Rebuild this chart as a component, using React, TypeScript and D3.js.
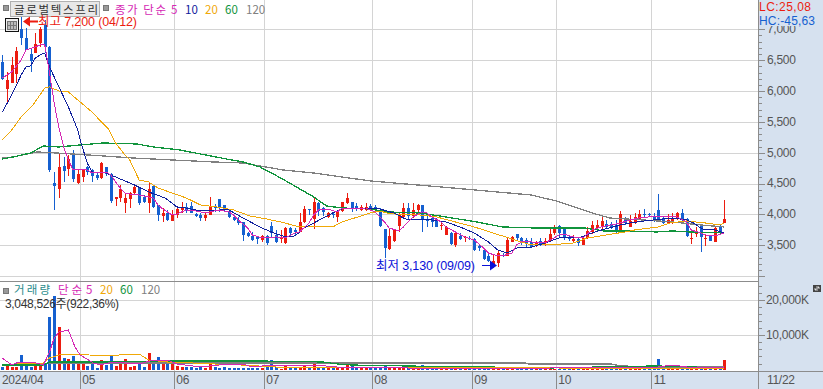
import React from "react";
import * as d3 from "d3";

const W = 823, H = 389;

const opens = [6470,6035,6130,6275,7005,6860,6600,6615,6780,7070,6715,4510,4415,4785,4735,4965,4510,4610,4770,4720,4640,4590,4770,4655,4250,4265,4185,4250,4350,4445,4285,4185,4460,4155,3975,4025,3895,3990,4075,4120,4140,4010,3990,3945,3990,4140,4250,4155,4055,3960,3910,3880,3700,3650,3635,3585,3650,3815,3670,3605,3540,3780,3750,3715,3880,4090,3925,4185,4105,3960,4010,3960,4055,4185,4205,4140,4075,4075,4140,4120,4075,3765,3440,3570,3815,3960,4105,3975,4075,4155,3925,3945,3895,3815,3670,3700,3505,3650,3620,3620,3605,3490,3425,3330,3200,3215,3345,3330,3555,3685,3620,3585,3555,3490,3570,3540,3570,3700,3815,3780,3620,3570,3605,3505,3620,3715,3780,3815,3845,3845,3830,3700,3945,3800,3860,3925,4010,4010,3975,4075,3945,3860,3860,3945,4025,3925,3605,3685,3815,3605,3670,3555,3815,3860];
const highs = [6585,6310,6550,6715,7200,7020,6680,6940,7040,7150,6730,4690,4980,4930,4965,5045,4720,4720,4785,4735,4670,4850,4770,4670,4285,4480,4350,4365,4495,4445,4315,4525,4480,4155,4105,4075,4075,4140,4205,4185,4205,4025,4025,4025,4285,4170,4250,4155,4075,3975,3960,3880,3715,3715,3635,3670,3670,3880,3750,3750,3800,3800,3780,4025,4140,4090,4265,4205,4120,4040,4025,4055,4205,4350,4205,4185,4155,4185,4170,4155,4105,3765,3765,3750,4040,4185,4185,4185,4170,4155,4025,3990,3945,3860,3815,3715,3700,3700,3650,3650,3620,3505,3425,3375,3345,3425,3375,3635,3650,3685,3635,3620,3620,3570,3620,3620,3800,3830,3830,3800,3670,3670,3620,3635,3800,3895,3910,3960,3910,3880,3910,4055,3960,3990,4025,4075,4090,4025,4025,4330,3975,4010,4025,4040,4090,3945,3765,3800,3830,3670,3670,3800,3830,4235];
const lows = [6180,5805,6130,6130,6745,6665,6310,6615,6715,6615,4690,4075,4265,4525,4625,4525,4495,4525,4640,4525,4560,4575,4625,4185,4140,4205,4025,4105,4315,4155,4185,4025,4105,3895,3880,3895,3895,3945,4025,4025,4025,3960,3895,3895,3990,4040,4040,4040,3945,3895,3830,3570,3635,3570,3520,3555,3505,3635,3540,3540,3520,3670,3670,3715,3860,3990,3765,3975,3975,3945,3945,3880,4040,4170,4040,4055,4055,4055,4055,4055,3800,3295,3425,3555,3715,3945,3925,3945,4040,3715,3800,3800,3800,3750,3670,3505,3475,3585,3555,3585,3410,3410,3265,3230,3130,3150,3310,3330,3555,3585,3505,3475,3455,3475,3490,3490,3555,3670,3635,3585,3570,3555,3490,3505,3605,3685,3750,3765,3765,3765,3700,3700,3830,3800,3845,3910,3960,3975,3880,3880,3845,3860,3845,3910,3860,3635,3520,3635,3395,3490,3570,3555,3700,3860];
const closes = [6195,6180,6420,6650,6860,6665,6490,6760,7005,6715,4720,4460,4770,4705,4900,4575,4655,4720,4690,4625,4590,4835,4655,4220,4285,4415,4265,4350,4445,4185,4205,4415,4120,3990,4025,3910,3990,4090,4120,4075,4025,3975,3945,3990,4140,4105,4105,4075,3960,3910,3865,3670,3650,3585,3605,3650,3540,3700,3555,3620,3780,3700,3715,3880,4090,4075,4205,4055,4040,4025,3990,4040,4205,4265,4090,4090,4120,4120,4090,4090,3815,3460,3650,3750,4010,4105,3975,4075,4155,3925,3895,3880,3800,3830,3800,3520,3700,3605,3635,3605,3425,3455,3280,3245,3245,3375,3330,3585,3635,3620,3540,3520,3475,3540,3520,3570,3685,3780,3700,3635,3605,3605,3540,3620,3735,3830,3830,3895,3800,3800,3735,4010,3860,3895,3960,4010,3995,3995,3925,3910,3860,3910,3945,4025,3925,3650,3620,3715,3635,3620,3570,3780,3715,3925];

const volumes = [1130,1890,1130,1130,4530,1420,1130,1320,1700,1890,15290,21240,12460,3590,3300,4250,2360,2080,1320,2360,755,3020,1700,4250,1320,2080,3300,945,1320,2080,1130,5100,3020,3965,1890,2360,1890,1320,1130,945,945,850,940,850,2360,940,850,940,850,755,755,755,755,755,850,755,1700,3020,945,566,1320,945,660,945,1700,945,2265,850,945,755,660,755,1130,1700,1700,945,755,660,755,660,850,1700,945,660,850,755,660,850,755,1700,660,945,945,660,566,660,566,660,566,660,566,660,566,660,566,660,566,470,470,470,470,470,470,470,470,470,1130,470,470,470,470,470,470,470,470,470,470,470,470,470,470,1130,660,660,660,566,566,660,755,3300,660,755,755,660,660,660,660,660,1415,566,470,566,566,3115];

const monthIdx = [80.3,174.3,264.3,372.3,472.3,556.3,651.7];
const monthLabels = ["05","06","07","08","09","10","11"];

const ma5: [number,number][] = [[0,6211],[2,6309],[4,6503],[5,6665],[7,6714],[8,6746],[9,6746],[10,6292],[11,5806],[12,5401],[13,5094],[14,4883],[15,4721],[16,4721],[18,4721],[19,4672],[21,4672],[22,4689],[23,4640],[24,4527],[25,4429],[26,4348],[28,4316],[29,4316],[31,4284],[32,4267],[33,4154],[34,4089],[36,3992],[37,4008],[39,4073],[41,4057],[42,4041],[43,4024],[45,4057],[46,4073],[48,4041],[49,3992],[50,3911],[52,3781],[53,3668],[55,3619],[56,3619],[58,3636],[60,3619],[62,3700],[63,3717],[65,3862],[66,3992],[67,4073],[69,4089],[71,4041],[72,4105],[74,4089],[77,4105],[79,4041],[81,3879],[82,3781],[84,3733],[85,3798],[87,3960],[89,4041],[90,4024],[91,3960],[93,3879],[94,3798],[96,3717],[98,3636],[100,3587],[102,3457],[103,3376],[105,3328],[106,3328],[108,3376],[109,3506],[110,3555],[112,3555],[115,3538],[118,3668],[119,3684],[121,3636],[123,3619],[125,3749],[127,3798],[129,3830],[131,3862],[133,3911],[135,3943],[137,3960],[140,3960],[143,3960],[145,3879],[146,3749],[148,3700],[149,3668],[151,3652],[153,3700]];
const ma10: [number,number][] = [[0,5661],[2,5936],[4,6260],[5,6390],[6,6406],[7,6535],[8,6584],[9,6616],[10,6390],[12,6066],[14,5742],[16,5369],[16.5,5207],[18,4834],[19,4689],[21,4672],[22,4672],[24,4608],[28,4478],[31,4365],[34.5,4267],[37,4122],[39,4105],[42,4057],[46,4073],[48,4073],[51,3943],[55,3781],[57,3717],[60,3636],[62,3652],[64,3781],[66,3862],[68,3943],[70,4024],[72,4089],[76,4089],[80,4089],[83,4024],[85,3943],[86,3911],[91,3911],[94,3879],[97,3798],[100,3700],[103,3555],[105,3425],[107,3376],[109,3457],[111.5,3457],[115,3538],[118,3619],[120,3619],[122,3619],[125,3700],[127,3749],[131,3830],[133,3862],[136,3895],[138,3911],[142,3943],[145,3911],[146.5,3862],[148,3781],[149,3749],[151,3749],[153,3700]];
const ma20: [number,number][] = [[0,5207],[2,5369],[4,5580],[6.5,5774],[9,6049],[10,6066],[12,6001],[14,5985],[16.5,5823],[19,5661],[21,5499],[22.5,5385],[24,5158],[26,4964],[27,4883],[29,4559],[31,4527],[33,4429],[36,4348],[39,4267],[42,4154],[45.5,4122],[49,4073],[52.5,3976],[56,3927],[59,3879],[63,3798],[66,3798],[70,3798],[72,3879],[74,3927],[78,4024],[80,4057],[81.5,4024],[85,3992],[88.5,3992],[92,3960],[96,3879],[100,3798],[104,3700],[108,3603],[112,3506],[116,3506],[121,3538],[124,3619],[128,3668],[132,3717],[134,3749],[139,3798],[141.5,3862],[145,3895],[149,3862],[152,3830],[153,3862]];
const ma60: [number,number][] = [[0,4899],[2.3,4932],[6,4996],[8.7,5110],[12,5094],[16.5,5126],[21.4,5158],[28.5,5142],[32,5094],[37.6,5045],[42,4980],[47.5,4899],[51,4851],[54.6,4770],[59,4591],[66,4284],[68.7,4138],[72,4105],[78,4089],[81.5,4041],[88.5,4024],[94,3960],[100.5,3879],[106,3798],[113,3781],[123.5,3781],[127.4,3733],[133,3733],[138.6,3717],[142,3733],[145.7,3717],[153,3700]];
const ma120: [number,number][] = [[0,4915],[2.3,4932],[7.3,5013],[11.5,4996],[21.4,4948],[27.7,4915],[36,4883],[44.7,4851],[51,4834],[59.5,4721],[66,4672],[78,4543],[95.5,4429],[112,4316],[117.4,4219],[125,4024],[128.7,3943],[135.8,3911],[142,3879],[148,3830],[153,3798]];

const volMa5: [number,number][] = [[0,3566],[2,1585],[3.5,2434],[6.5,2434],[8.7,1585],[10,5264],[11,9226],[12,10924],[14,11490],[15.4,6679],[16.5,4415],[19.3,2150],[20.7,1585],[23.5,2434],[29,1868],[31.3,2717],[35,3000],[37,1868],[42,1019],[46,1585],[51,1868],[53,1019],[57,1585],[61,1302],[66,1585],[71,1019],[81,1019],[86,736],[116,736],[132,1019],[139,1019],[141,1400],[143,1400],[145,1019],[153,1019]];
const volMa20: [number,number][] = [[3,2150],[8.7,2150],[10,3566],[12,4415],[16.5,4698],[18.5,4415],[23.5,4132],[26,4698],[29,4698],[31,3000],[35,2434],[40.5,2150],[45,1868],[50.5,1585],[54.5,1302],[58,1019],[69,1019],[87,1019],[104,1019],[118,736],[153,736]];
const volMa60: [number,number][] = [[0,1585],[8.7,1585],[10,2434],[16.5,2434],[21,2434],[35,2717],[55,2717],[68,2434],[71,1868],[74,1585],[85.7,1302],[103,1019],[116,736],[131,1160],[138,1302],[146,1160],[148,880],[153,736]];
const volMa120: [number,number][] = [[10,2150],[16.5,2150],[71,2150],[111,2150],[111.5,1868],[129,1868],[130,1585],[132,1302],[138,1019],[153,1019]];

const priceTicks = [7000,6500,6000,5500,5000,4500,4000,3500];
const volTicks = [20000,10000];
const fmt = d3.format(",");

const C = { red:"#ec1c10", blue:"#1560d0", mag:"#d528b4", navy:"#10209c", org:"#f0a808", grn:"#10943c", gry:"#808080", grid:"#d4d4d4", panel:"#d6e1ef", axis:"#8c8c8c", txt:"#555" };
const KR = "'Noto Sans CJK KR','Noto Sans',sans-serif";
const NUM = "'Liberation Sans',Arial,'Noto Sans CJK KR',sans-serif";

export default function App() {
  const x = d3.scaleLinear().domain([0,153]).range([2.3,724.3]);
  const y = d3.scaleLinear().domain([7000,3000]).range([29.3,276.2]);
  const v = d3.scaleLinear().domain([0,20000]).range([370.6,300]);
  const plotR = 758;
  const lineP = d3.line<[number,number]>().x(d=>x(d[0])).y(d=>y(d[1]));
  const lineV = d3.line<[number,number]>().x(d=>x(d[0])).y(d=>v(d[1]));
  const px = (i:number)=>Math.round(x(i));

  const priceMinor = d3.range(3000,7001,100);
  const volMinor = d3.range(0,24001,2000);

  return (
    <svg width={W} height={H} viewBox={`0 0 ${W} ${H}`} style={{position:"absolute",left:0,top:0,background:"#fff"}}>
      {/* grid */}
      <g shapeRendering="crispEdges" stroke={C.grid}>
        {[...priceTicks,3000].map(t=><line key={t} x1={0} x2={plotR} y1={Math.round(y(t))+.5} y2={Math.round(y(t))+.5}/>)}
        {volTicks.map(t=><line key={t} x1={0} x2={plotR} y1={Math.round(v(t))+.5} y2={Math.round(v(t))+.5}/>)}
        {monthIdx.map(m=><line key={m} x1={Math.floor(m)+.5} x2={Math.floor(m)+.5} y1={0} y2={371}/>)}
      </g>

      {/* candles */}
      <g shapeRendering="crispEdges">
        {opens.map((o,i)=>{
          const c = closes[i]; const col = c>=o?C.red:C.blue; const cx = px(i);
          const top = Math.round(y(Math.max(o,c))); const bot = Math.round(y(Math.min(o,c)));
          return <g key={i}>
            <line x1={cx+.5} x2={cx+.5} y1={Math.round(y(highs[i]))} y2={Math.round(y(lows[i]))} stroke={col}/>
            <rect x={cx-1} y={top} width={3} height={Math.max(1,bot-top)} fill={col}/>
          </g>;
        })}
      </g>

      {/* moving averages */}
      <g fill="none" strokeWidth={1} shapeRendering="crispEdges">
        <path d={lineP(ma120)!} stroke={C.gry} strokeWidth={1.3}/>
        <path d={lineP(ma60)!} stroke={C.grn} strokeWidth={1.3}/>
        <path d={lineP(ma20)!} stroke={C.org}/>
        <path d={lineP(ma10)!} stroke={C.navy}/>
        <path d={lineP(ma5)!} stroke={C.mag}/>
      </g>

      {/* volume */}
      <g shapeRendering="crispEdges">
        {volumes.map((q,i)=>{
          const col = closes[i]>=opens[i]?C.red:C.blue; const t = Math.round(v(q));
          return <rect key={i} x={px(i)-1} y={t} width={3} height={370-t} fill={col}/>;
        })}
      </g>
      <g fill="none" strokeWidth={1.2} shapeRendering="crispEdges">
        <path d={lineV(volMa120)!} stroke={C.gry}/>
        <path d={lineV(volMa60)!} stroke={C.grn}/>
        <path d={lineV(volMa20)!} stroke={C.org} strokeWidth={1}/>
        <path d={lineV(volMa5)!} stroke={C.mag} strokeWidth={1}/>
      </g>

      {/* panels */}
      <g shapeRendering="crispEdges">
        <rect x={plotR} y={0} width={W-plotR} height={H} fill={C.panel}/>
        <rect x={0} y={371} width={W} height={H-371} fill={C.panel}/>
        <line x1={0} x2={plotR} y1={281.5} y2={281.5} stroke={C.axis} strokeWidth={1.5}/>
        <line x1={0} x2={W} y1={371.5} y2={371.5} stroke={C.axis} strokeWidth={1.5}/>
        <line x1={758.5} x2={758.5} y1={0} y2={H} stroke={C.axis} strokeWidth={1.5}/>
        {monthIdx.map(m=><line key={m} x1={Math.floor(m)+.5} x2={Math.floor(m)+.5} y1={371} y2={H} stroke={C.axis}/>)}
        {priceMinor.map(t=>{const yy=Math.round(y(t))+.5; return <line key={t} x1={759} x2={t%500===0?765:762} y1={yy} y2={yy} stroke={C.axis}/>;})}
        {volMinor.map(t=>{const yy=Math.round(v(t))+.5; return yy>283 && <line key={t} x1={759} x2={t%10000===0?765:762} y1={yy} y2={yy} stroke={C.axis}/>;})}
      </g>

      {/* axis labels */}
      <g fontFamily={NUM} fontSize={12} fill={C.txt} letterSpacing={-0.3}>
        {priceTicks.map(t=><text key={t} x={767} y={y(t)+3.8}>{fmt(t)}</text>)}
        <text x={766} y={v(20000)+3.8}>{fmt(20000)}K</text>
        <text x={766} y={v(10000)+3.8}>{fmt(10000)}K</text>
        <text x={2} y={384}>2024/04</text>
        {monthLabels.map((l,i)=><text key={l} x={monthIdx[i]+2} y={384}>{l}</text>)}
        <text x={767} y={384}>11/22</text>
      </g>

      {/* LC / HC */}
      <rect x={760} y={0} width={63} height={26} fill={C.panel} shapeRendering="crispEdges"/>
      <g fontFamily={NUM} fontSize={12}>
        <text x={759} y={11} fill={C.red} textLength={52}>LC:25,08</text>
        <text x={759} y={24.5} fill={C.blue} textLength={56}>HC:-45,63</text>
      </g>
      <rect x={813} y={285} width={8} height={7} fill="#444"/>
      <path d="M815 290l4-3M816 287h3v2M815 288v2h3" stroke="#fff" fill="none" strokeWidth={0.7}/>

      {/* top legend */}
      <rect x={3.5} y={5.5} width={5} height={5} fill="#999" stroke="#777"/>
      <rect x={10.5} y={1.5} width={89} height={15} fill="#e8e8e8" stroke="#b0b0b0"/>
      <text x={14} y={13.5} fontFamily={KR} fontSize={11.5} fill="#333" textLength={84}>글로벌텍스프리</text>
      <rect x={103.5} y={5.5} width={5} height={5} fill="#999" stroke="#777"/>
      <g fontFamily={KR} fontSize={11.5}>
        <text x={115} y={13.5} fill={C.mag} textLength={51}>종가 단순</text>
        <text x={171} y={13.5} fill={C.mag}>5</text>
        <text x={185} y={13.5} fill={C.navy}>10</text>
        <text x={205} y={13.5} fill={C.org}>20</text>
        <text x={225} y={13.5} fill={C.grn}>60</text>
        <text x={246} y={13.5} fill={C.gry}>120</text>
      </g>

      {/* grid icon */}
      <g shapeRendering="crispEdges">
        <rect x={5.5} y={18.5} width={13} height={13} fill="#eee" stroke="#111"/>
        <rect x={7.5} y={21.5} width={9} height={8} fill="#bbb" stroke="#777"/>
        <path d="M10.5 21v9M13.5 21v9M7 25.5h10" stroke="#777"/>
      </g>

      {/* high annotation */}
      <path d="M23 21.5l7-5v4h8v2h-8v4z" fill={C.red}/>
      <text x={38} y={26} fontFamily={NUM} fontSize={12.5} fill={C.red} textLength={99}>최고 7,200 (04/12)</text>

      {/* low annotation */}
      <text x={376} y={270} fontFamily={NUM} fontSize={12.5} fill="#0a10d8" textLength={99}>최저 3,130 (09/09)</text>
      <path d="M482 265h8v-4.5l7 5-7 5v-4.5h-8z" fill="#0a10d8"/>

      {/* volume legend */}
      <rect x={3.5} y={288.5} width={5} height={5} fill="#999" stroke="#777"/>
      <g fontFamily={KR} fontSize={11.5}>
        <text x={14} y={294} fill="#2a8c8c" textLength={36}>거래량</text>
        <text x={58} y={294} fill={C.mag} textLength={24}>단순</text>
        <text x={86} y={294} fill={C.mag}>5</text>
        <text x={100} y={294} fill={C.org}>20</text>
        <text x={120} y={294} fill={C.grn}>60</text>
        <text x={141} y={294} fill={C.gry}>120</text>
      </g>
      <text x={5} y={308} fontFamily={NUM} fontSize={12} fill="#333" textLength={114}>3,048,526주(922,36%)</text>
    </svg>
  );
}
